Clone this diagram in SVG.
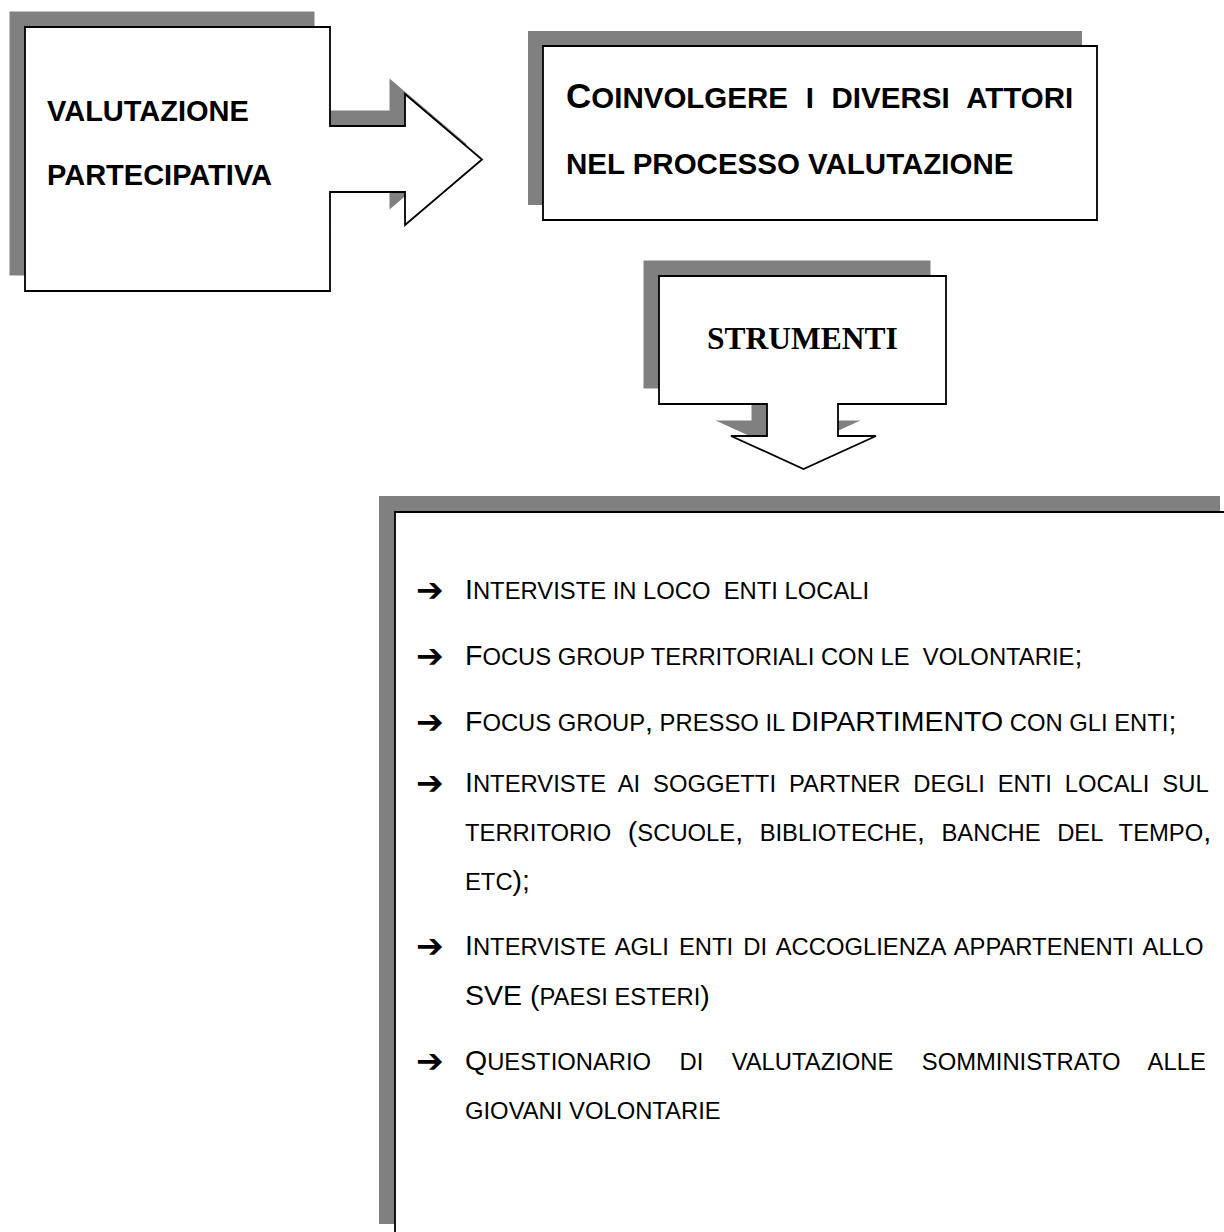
<svg xmlns="http://www.w3.org/2000/svg" width="1224" height="1232" viewBox="0 0 1224 1232">
<style>
  .shadow { fill: #808080; stroke: none; }
  .shape { fill: #ffffff; stroke: #000000; stroke-width: 1.8; stroke-linejoin: miter; }
  .hb { font-family: "Liberation Sans", Arial, sans-serif; font-weight: bold; fill: #000; }
  .ser { font-family: "Liberation Serif", "Times New Roman", serif; font-weight: bold; fill: #000; }
  .li { font-family: "Liberation Sans", Arial, sans-serif; font-size: 23.8px; fill: #000; }
  .big { font-size: 28.5px; }
  .bul { font-family: "DejaVu Sans", sans-serif; font-size: 33px; font-weight: bold; fill: #000; }
</style>
<defs>
  <path id="c1" d="M25,27 H330 V126 H405 V94 L482,159.5 L405,225 V192 H330 V291 H25 Z"/>
  <path id="c2" d="M543,46 H1097 V220 H543 Z"/>
  <path id="c3" d="M659,276 H946 V404 H838 V436 H876 L803.5,469 L731,436 H767 V404 H659 Z"/>
  <path id="c4" d="M395,512 H1236 V1240 H395 Z"/>
</defs>

<g id="connectors"></g>

<g id="node-valutazione">
  <use href="#c1" class="shadow" transform="translate(-15.5,-15.5)"/>
  <use href="#c1" class="shape"/>
  <text class="hb" font-size="29" x="47" y="121">VALUTAZIONE</text>
  <text class="hb" font-size="29" x="47" y="185">PARTECIPATIVA</text>
</g>

<g id="node-coinvolgere">
  <use href="#c2" class="shadow" transform="translate(-15,-15)"/>
  <use href="#c2" class="shape"/>
  <text class="hb" font-size="29.5" x="566" y="108" word-spacing="9.5"><tspan font-size="35">C</tspan>OINVOLGERE I DIVERSI ATTORI</text>
  <text class="hb" font-size="29.5" x="566" y="174">NEL PROCESSO VALUTAZIONE</text>
</g>

<g id="node-strumenti">
  <use href="#c3" class="shadow" transform="translate(-15.5,-15.5)"/>
  <use href="#c3" class="shape"/>
  <text class="ser" font-size="31.5" x="802.5" y="349" text-anchor="middle">STRUMENTI</text>
</g>

<g id="node-elenco">
  <use href="#c4" class="shadow" transform="translate(-16,-16)"/>
  <use href="#c4" class="shape"/>

  <text class="bul" x="416" y="601">➔</text>
  <text class="li" x="465" y="599" xml:space="preserve"><tspan class="big">I</tspan>NTERVISTE IN LOCO  ENTI LOCALI</text>

  <text class="bul" x="416" y="667">➔</text>
  <text class="li" x="465" y="665" xml:space="preserve"><tspan class="big">F</tspan>OCUS GROUP TERRITORIALI CON LE  VOLONTARIE<tspan class="big">;</tspan></text>

  <text class="bul" x="416" y="733">➔</text>
  <text class="li" x="465" y="731"><tspan class="big">F</tspan>OCUS GROUP<tspan class="big">,</tspan> PRESSO IL <tspan class="big">DIPARTIMENTO</tspan> CON GLI ENTI<tspan class="big">;</tspan></text>

  <text class="bul" x="416" y="794">➔</text>
  <text class="li" x="465" y="792" word-spacing="6.3"><tspan class="big">I</tspan>NTERVISTE AI SOGGETTI PARTNER DEGLI ENTI LOCALI SUL</text>
  <text class="li" x="465" y="841" word-spacing="9.9">TERRITORIO <tspan class="big">(</tspan>SCUOLE<tspan class="big">,</tspan> BIBLIOTECHE<tspan class="big">,</tspan> BANCHE DEL TEMPO<tspan class="big">,</tspan></text>
  <text class="li" x="465" y="890">ETC<tspan class="big">);</tspan></text>

  <text class="bul" x="416" y="957">➔</text>
  <text class="li" x="465" y="955" word-spacing="3.4"><tspan class="big">I</tspan>NTERVISTE AGLI ENTI DI ACCOGLIENZA APPARTENENTI ALLO</text>
  <text class="li" x="465" y="1005"><tspan class="big">SVE (</tspan>PAESI ESTERI<tspan class="big">)</tspan></text>

  <text class="bul" x="416" y="1072">➔</text>
  <text class="li" x="465" y="1070" word-spacing="21.75"><tspan class="big">Q</tspan>UESTIONARIO DI VALUTAZIONE SOMMINISTRATO ALLE</text>
  <text class="li" x="465" y="1119">GIOVANI VOLONTARIE</text>
</g>
</svg>
